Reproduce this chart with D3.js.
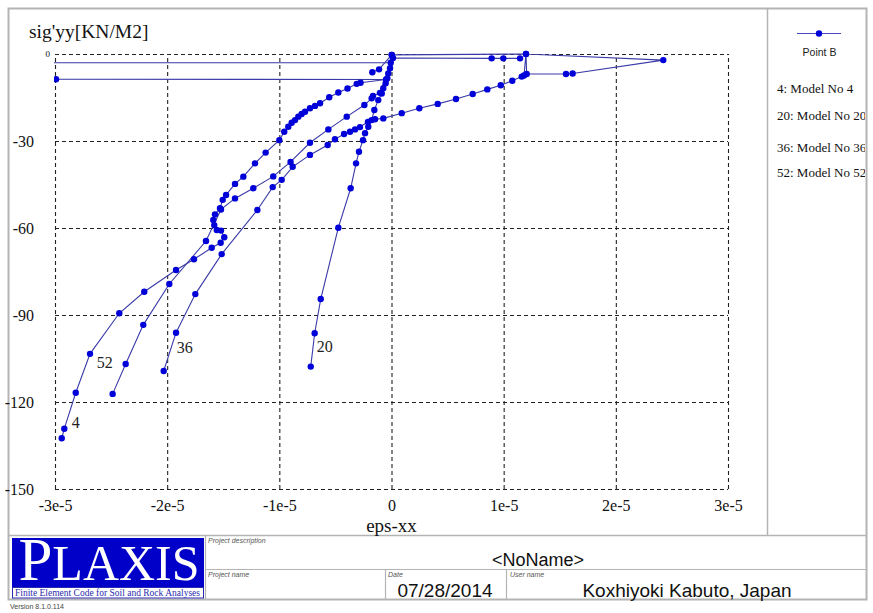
<!DOCTYPE html>
<html><head><meta charset="utf-8">
<script src="https://cdn.jsdelivr.net/npm/d3@7"></script>
<style>
html,body{margin:0;padding:0;background:#fff;}
svg{display:block;}
</style></head><body>
<svg id="chart" width="873" height="613"></svg>
<script>
// ---- axis ticks ----
const xTicks = [-3e-5, -2e-5, -1e-5, 0, 1e-5, 2e-5, 3e-5];
const xTickLabels = ["-3e-5", "-2e-5", "-1e-5", "0", "1e-5", "2e-5", "3e-5"];
const yTicks = [0, -30, -60, -90, -120, -150];
const yTickLabels = ["0", "-30", "-60", "-90", "-120", "-150"];

// ---- curves: [eps-xx, sig'yy] for stress point B ----
const model4 = [
  [-2.991e-5, -8.7], [-0.049e-5, -8.8], [-0.276e-5, -9.9], [-0.310e-5, -10.3], [-0.392e-5, -11.9],
  [-0.474e-5, -13.3], [-0.555e-5, -14.9], [-0.637e-5, -17.0], [-0.682e-5, -17.9], [-0.727e-5, -18.7],
  [-0.771e-5, -19.9], [-0.801e-5, -20.7], [-0.831e-5, -21.6], [-0.860e-5, -22.8], [-0.890e-5, -23.7],
  [-0.920e-5, -25.1], [-0.956e-5, -26.8], [-1.000e-5, -29.7], [-1.122e-5, -34.0], [-1.217e-5, -37.7],
  [-1.321e-5, -42.3], [-1.395e-5, -44.8], [-1.475e-5, -48.6], [-1.505e-5, -50.3], [-1.529e-5, -53.2],
  [-1.574e-5, -55.3], [-1.589e-5, -57.2], [-1.580e-5, -59.0], [-1.558e-5, -60.7], [-1.520e-5, -60.9],
  [-1.491e-5, -63.2], [-1.523e-5, -65.1], [-1.603e-5, -66.8], [-1.761e-5, -70.8], [-1.921e-5, -74.5],
  [-2.204e-5, -82.0], [-2.427e-5, -89.4], [-2.688e-5, -103.4], [-2.815e-5, -116.8], [-2.917e-5, -129.2],
  [-2.940e-5, -132.5]
];
const model20 = [
  [-3.2e-5, -3.0], [-0.007e-5, -3.0], [0.002e-5, -0.3], [-0.013e-5, -4.9], [-0.029e-5, -6.7],
  [-0.037e-5, -8.4], [-0.052e-5, -10.1], [-0.073e-5, -11.8], [-0.087e-5, -13.6], [-0.118e-5, -15.9],
  [-0.153e-5, -19.3], [-0.177e-5, -22.8], [-0.207e-5, -25.1], [-0.236e-5, -27.3], [-0.254e-5, -29.7],
  [-0.290e-5, -33.7], [-0.316e-5, -37.7], [-0.364e-5, -46.3], [-0.474e-5, -59.9], [-0.631e-5, -84.5],
  [-0.685e-5, -96.3], [-0.720e-5, -107.8]
];
const model36 = [
  [-0.171e-5, -6.3], [-0.111e-5, -5.3], [0.002e-5, -0.3], [1.199e-5, 0.0], [1.205e-5, -6.9],
  [1.556e-5, -6.9], [1.615e-5, -6.7], [2.423e-5, -2.1], [1.199e-5, 0.0], [1.181e-5, -7.4],
  [1.161e-5, -7.8], [1.077e-5, -9.2], [0.974e-5, -10.8], [0.854e-5, -12.2], [0.724e-5, -13.8],
  [0.575e-5, -15.5], [0.412e-5, -17.2], [0.248e-5, -18.7], [0.091e-5, -20.4], [-0.073e-5, -22.2],
  [-0.147e-5, -22.5], [-0.210e-5, -23.4], [-0.281e-5, -25.2], [-0.325e-5, -26.0], [-0.370e-5, -26.8],
  [-0.423e-5, -27.6], [-0.504e-5, -29.4], [-0.569e-5, -31.4], [-0.727e-5, -34.8], [-0.881e-5, -38.9],
  [-0.979e-5, -43.4], [-1.059e-5, -45.9], [-1.196e-5, -53.8], [-1.514e-5, -69.0], [-1.749e-5, -82.8],
  [-1.921e-5, -96.1], [-2.031e-5, -109.3]
];
const model52 = [
  [1.146e-5, -1.5], [0.997e-5, -1.5], [0.893e-5, -1.5], [0.013e-5, -1.4], [-0.103e-5, -13.4],
  [-0.165e-5, -14.5], [-0.177e-5, -15.3], [-0.242e-5, -17.6], [-0.399e-5, -21.6], [-0.563e-5, -26.0],
  [-0.727e-5, -30.6], [-0.900e-5, -37.2], [-1.054e-5, -42.2], [-1.232e-5, -46.3], [-1.395e-5, -49.8],
  [-1.520e-5, -53.6], [-1.654e-5, -64.5], [-1.981e-5, -79.3], [-2.213e-5, -93.4], [-2.370e-5, -106.9],
  [-2.486e-5, -117.2]
];
const curveNames = ["4", "20", "36", "52"];
const legendLabels = ["4: Model No 4", "20: Model No 20", "36: Model No 36", "52: Model No 52"];

// ---- layout ----
const plot = { left: 55, right: 728, top: 54, bottom: 489 };
const serif = "'Liberation Serif', 'Times New Roman', serif";
const sans = "'Liberation Sans', Arial, sans-serif";
const lineColor = "#3a3aa8";
const dotColor = "#0000d8";

const svg = d3.select("#chart");
const x = d3.scaleLinear().domain([-3e-5, 3e-5]).range([plot.left, plot.right]);
const y = d3.scaleLinear().domain([0, -150]).range([plot.top, plot.bottom]);

// outer frame and panel separators
const frame = svg.append("g").attr("stroke", "#b4b4b4").attr("fill", "none");
frame.append("rect").attr("x", 8.5).attr("y", 8.5).attr("width", 858).attr("height", 591).attr("stroke-width", 2);
frame.append("line").attr("x1", 767.5).attr("x2", 767.5).attr("y1", 8).attr("y2", 535).attr("stroke-width", 1.5);
frame.append("line").attr("x1", 8).attr("x2", 867).attr("y1", 535.5).attr("y2", 535.5).attr("stroke-width", 1.5);
frame.append("line").attr("x1", 205).attr("x2", 867).attr("y1", 569.5).attr("y2", 569.5).attr("stroke-width", 1.2);
frame.append("line").attr("x1", 205.5).attr("x2", 205.5).attr("y1", 535).attr("y2", 599).attr("stroke-width", 1.2);
frame.append("line").attr("x1", 385.5).attr("x2", 385.5).attr("y1", 569).attr("y2", 599).attr("stroke-width", 1.2);
frame.append("line").attr("x1", 506.5).attr("x2", 506.5).attr("y1", 569).attr("y2", 599).attr("stroke-width", 1.2);

// axes with dashed grid
const xAxis = svg.append("g")
  .attr("transform", `translate(0,${plot.bottom})`)
  .call(d3.axisBottom(x).tickValues(xTicks).tickSize(-(plot.bottom - plot.top))
    .tickPadding(11).tickFormat((d, i) => xTickLabels[i]));
const yAxis = svg.append("g")
  .attr("transform", `translate(${plot.left},0)`)
  .call(d3.axisLeft(y).tickValues(yTicks).tickSize(-(plot.right - plot.left))
    .tickPadding(21).tickFormat((d, i) => yTickLabels[i]));
[xAxis, yAxis].forEach(g => {
  g.attr("font-family", serif).attr("font-size", 16);
  g.select(".domain").remove();
  g.selectAll(".tick line").attr("stroke", "#222").attr("stroke-width", 1.1)
    .attr("stroke-dasharray", "4,3");
  g.selectAll(".tick text").attr("fill", "#111");
});
yAxis.selectAll(".tick text").filter(d => d === 0).attr("font-size", 9).attr("x", -5);

svg.append("text").attr("x", 29).attr("y", 38).text("sig'yy[KN/M2]")
  .attr("font-family", serif).attr("font-size", 19.5).attr("fill", "#111");
svg.append("text").attr("x", x(0)).attr("y", 532).attr("text-anchor", "middle").text("eps-xx")
  .attr("font-family", serif).attr("font-size", 19).attr("fill", "#111");

// curves
svg.append("clipPath").attr("id", "plotClip").append("rect")
  .attr("x", plot.left - 1).attr("y", plot.top - 8).attr("width", plot.right - plot.left + 6)
  .attr("height", plot.bottom - plot.top + 12);
const curves = [model4, model20, model36, model52];
const lineGen = d3.line().x(d => x(d[0])).y(d => y(d[1]));
const dataG = svg.append("g").attr("clip-path", "url(#plotClip)");
curves.forEach(c => {
  dataG.append("path").attr("d", lineGen(c)).attr("fill", "none")
    .attr("stroke", lineColor).attr("stroke-width", 1.1);
});
curves.forEach(c => {
  dataG.append("g").selectAll("circle").data(c).join("circle")
    .attr("cx", d => x(d[0])).attr("cy", d => y(d[1])).attr("r", 3.2).attr("fill", dotColor);
});

// curve number at the end of each curve
const labelOffset = { "4": [14, -16], "20": [14, -20], "36": [21, -24], "52": [-8, -31] };
curves.forEach((c, i) => {
  const last = c[c.length - 1];
  const off = labelOffset[curveNames[i]];
  svg.append("text").attr("x", x(last[0]) + off[0]).attr("y", y(last[1]) + off[1])
    .attr("text-anchor", "middle").attr("dy", "0.35em").text(curveNames[i])
    .attr("font-family", serif).attr("font-size", 16).attr("fill", "#222");
});

// legend panel
svg.append("clipPath").attr("id", "legendClip").append("rect")
  .attr("x", 768).attr("y", 9).attr("width", 97).attr("height", 525);
const leg = svg.append("g").attr("clip-path", "url(#legendClip)");
leg.append("line").attr("x1", 797).attr("x2", 841).attr("y1", 33.5).attr("y2", 33.5)
  .attr("stroke", "#4a4ac0").attr("stroke-width", 1.2);
leg.append("circle").attr("cx", 819).attr("cy", 33.5).attr("r", 3.2).attr("fill", dotColor);
leg.append("text").attr("x", 819.5).attr("y", 55.5).attr("text-anchor", "middle").text("Point B")
  .attr("font-family", sans).attr("font-size", 10.5).attr("fill", "#222");
const legendY = [88, 115, 147, 172];
legendLabels.forEach((t, i) => {
  leg.append("text").attr("x", 777).attr("y", legendY[i]).attr("dy", "0.35em").text(t)
    .attr("font-family", serif).attr("font-size", 13).attr("fill", "#111");
});

// title block
const logo = svg.append("g");
logo.append("rect").attr("x", 12).attr("y", 538).attr("width", 192).attr("height", 49).attr("fill", "#0000c8");
logo.append("rect").attr("x", 12.5).attr("y", 587.5).attr("width", 191).attr("height", 10.5)
  .attr("fill", "#fff").attr("stroke", "#2a2ab0").attr("stroke-width", 1);
const logoText = logo.append("text").attr("x", 109).attr("y", 580).attr("text-anchor", "middle")
  .attr("font-family", serif).attr("fill", "#fff");
logoText.append("tspan").text("P").attr("font-size", 61);
logoText.append("tspan").text("LAXIS").attr("font-size", 50);
logo.append("text").attr("x", 15).attr("y", 596)
  .text("Finite Element Code for Soil and Rock Analyses")
  .attr("textLength", 185).attr("lengthAdjust", "spacingAndGlyphs")
  .attr("font-family", serif).attr("font-size", 9.5).attr("fill", "#2a2ab0");

const small = (tx, ty, t) => svg.append("text").attr("x", tx).attr("y", ty).text(t)
  .attr("font-family", sans).attr("font-size", 7).attr("font-style", "italic").attr("fill", "#555");
small(208, 543, "Project description");
small(208, 577, "Project name");
small(388, 577, "Date");
small(510, 577, "User name");
svg.append("text").attr("x", 538).attr("y", 566).attr("text-anchor", "middle").text("<NoName>")
  .attr("font-family", sans).attr("font-size", 18).attr("fill", "#111");
svg.append("text").attr("x", 445).attr("y", 597).attr("text-anchor", "middle").text("07/28/2014")
  .attr("font-family", sans).attr("font-size", 19).attr("fill", "#111");
svg.append("text").attr("x", 687).attr("y", 597).attr("text-anchor", "middle").text("Koxhiyoki Kabuto, Japan")
  .attr("font-family", sans).attr("font-size", 19).attr("fill", "#111");
svg.append("text").attr("x", 10).attr("y", 609).text("Version 8.1.0.114")
  .attr("font-family", sans).attr("font-size", 7).attr("fill", "#444");
</script>
</body></html>
